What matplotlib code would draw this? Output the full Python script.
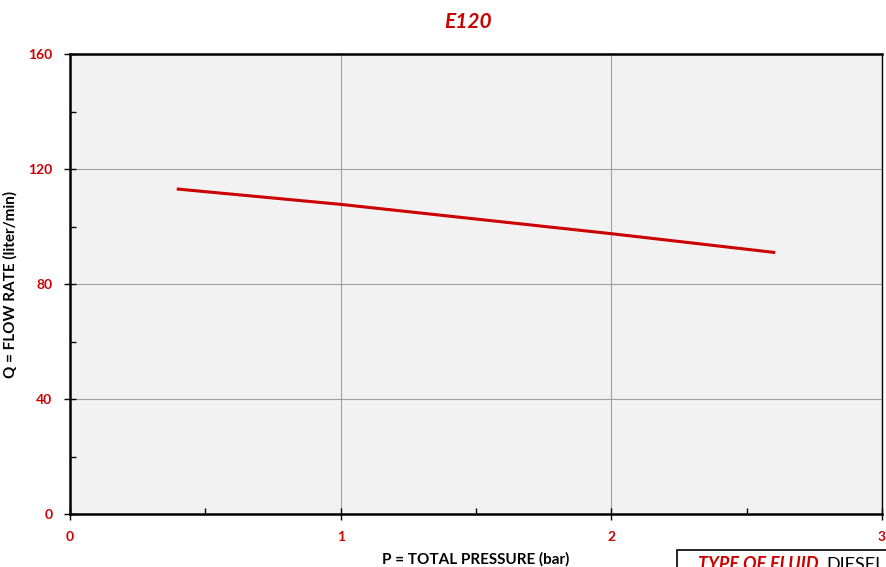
import numpy as np
import matplotlib.pyplot as plt
from matplotlib.patches import Rectangle

pressure = [0.4, 1.0, 2.0, 2.6]
flow = [113, 107.7, 97.5, 91]
x_ticks = [0, 1, 2, 3]
y_ticks = [0, 40, 80, 120, 160]

red = '#cc0000'
plt.rcParams['font.family'] = ['Lato', 'DejaVu Sans']

fig = plt.figure(figsize=(8.86, 5.67), dpi=100)
ax = fig.add_axes([70 / 886, 1 - 514 / 567, 812 / 886, 460 / 567])
ax.set_facecolor('#f2f2f2')

ax.plot(pressure, flow, color=red, lw=2.2)

ax.set_xlim(0, 3)
ax.set_ylim(0, 160)
ax.set_xticks(x_ticks)
ax.set_yticks(y_ticks)
ax.set_xticks([0.5, 1.5, 2.5], minor=True)
ax.set_yticks([20, 60, 100, 140], minor=True)
ax.grid(True, which='major', color='#a0a0a0', lw=0.8)
ax.tick_params(which='major', direction='inout', length=9, width=1,
               labelsize=10, labelcolor=red, pad=8)
ax.tick_params(which='minor', direction='in', length=4, width=1)
for lab in ax.get_xticklabels() + ax.get_yticklabels():
    lab.set_fontweight('bold')
for side in ['left', 'bottom', 'top']:
    ax.spines[side].set_linewidth(1.8)
ax.spines['right'].set_linewidth(1.0)

ax.set_xlabel('P = TOTAL PRESSURE (bar)', fontsize=11, fontweight='bold', labelpad=6)
ax.set_ylabel('Q = FLOW RATE (liter/min)', fontsize=11, fontweight='bold', labelpad=8)
fig.text(468 / 886, 1 - 22 / 567, 'E120', color=red, fontsize=15, fontweight='bold',
         fontstyle='italic', ha='center', va='center')

# fluid box, cut off at the bottom edge as in the source
fig.patches.append(Rectangle((677 / 886, -0.05), 0.3, 0.05 + 1 - 550 / 567,
                             transform=fig.transFigure, fill=False,
                             edgecolor='black', lw=1.2))
fig.text(698 / 886, 1 - 570 / 567, 'TYPE OF FLUID', color=red, fontsize=13,
         fontweight='bold', fontstyle='italic', va='baseline')
fig.text(826 / 886, 1 - 570 / 567, 'DIESEL', color='black', fontsize=13,
         va='baseline')

fig.savefig('out.png', dpi=100)
